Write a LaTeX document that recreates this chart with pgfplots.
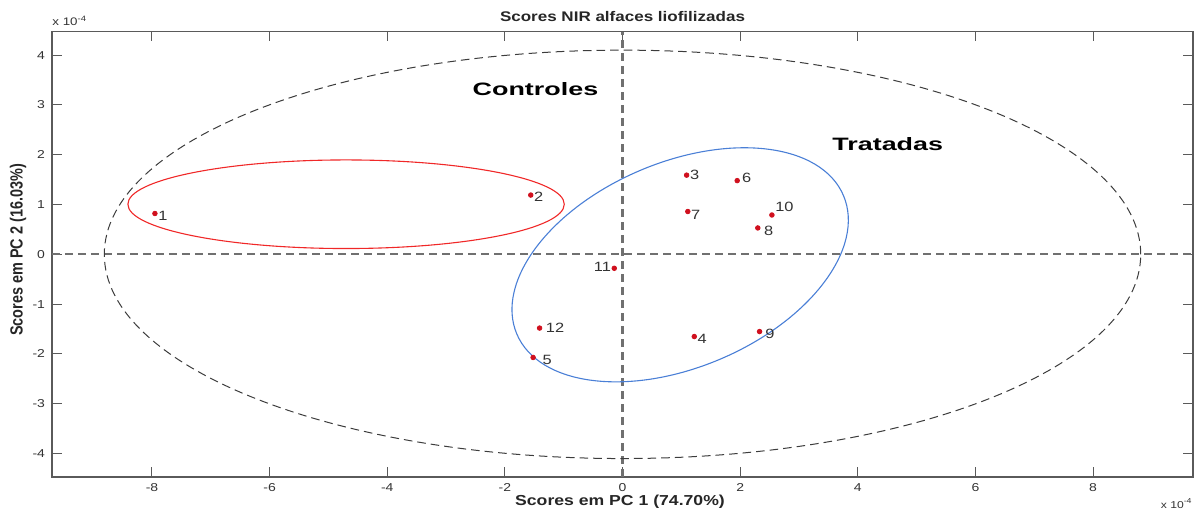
\documentclass[border=0pt]{standalone}
\usepackage{fontspec}
\setmainfont{Liberation Sans}[FakeStretch=1.22]
\newfontfamily\plainfont{Liberation Sans}
\newfontfamily\widefont{Liberation Sans}[FakeStretch=1.5]
\usepackage{pgfplots}
\usepackage{pgfplotstable}
\pgfplotsset{compat=1.18}
\definecolor{ptred}{HTML}{D0101E}
\definecolor{ellred}{HTML}{F02828}
\definecolor{ellblue}{HTML}{4A7FD6}
\definecolor{axgray}{HTML}{5A5A5A}
\definecolor{txtgray}{HTML}{333333}
\definecolor{zerogray}{HTML}{707070}
\definecolor{ellgray}{HTML}{3C3C3C}

\pgfplotstableread{
x     y
-7.95 0.82
-1.56 1.19
1.09  1.59
1.22  -1.65
-1.52 -2.07
1.95  1.48
1.11  0.86
2.30  0.53
2.33  -1.55
2.54  0.79
-0.14 -0.28
-1.41 -1.48
}\scores

\tikzset{plab/.style={font=\fontsize{6.75}{7.5}\selectfont, text=txtgray, anchor=west, inner sep=1.5bp}}

\begin{document}
\begin{tikzpicture}
\begin{axis}[
  scale only axis, width=570.5bp, height=222.65bp,
  xmin=-9.7, xmax=9.7, ymin=-4.47, ymax=4.47,
  xtick={-8,-6,-4,-2,0,2,4,6,8},
  ytick={-4,-3,-2,-1,0,1,2,3,4},
  tick align=inside,
  major tick length=4.8bp,
  axis line style={axgray, line width=0.75bp},
  tick style={axgray, line width=0.5bp},
  ticklabel style={font=\fontsize{5.75}{6.5}\selectfont, text=txtgray},
  xticklabel style={yshift=0.3bp},
  /pgf/number format/assume math mode=true,
]
\draw[zerogray, line width=1.1bp, dash pattern=on 4bp off 2.5bp] (axis cs:-9.7,0) -- (axis cs:9.7,0);
\draw[zerogray, line width=1.1bp, dash pattern=on 4bp off 2.5bp] (axis cs:0,-4.47) -- (axis cs:0,4.47);
\draw[ellgray, line width=0.5bp, dash pattern=on 4.3bp off 2.5bp] (axis cs:0,0) ellipse [x radius=259.1bp, y radius=102.1bp];
\draw[ellred, line width=0.55bp] (axis cs:-4.70,1.006) ellipse [x radius=109.1bp, y radius=22.15bp];
\draw[ellblue, line width=0.55bp, rotate around={22.97:(axis cs:0.98,-0.21)}] (axis cs:0.98,-0.21) ellipse [x radius=88.7bp, y radius=51.25bp];
\addplot[only marks, mark=*, mark size=1.15bp, ptred, mark options={fill=ptred, draw=ptred}]
  table[x=x, y=y] {\scores};
\node[plab] at (axis cs:-7.95,0.82) [yshift=-1bp] {1};
\node[plab] at (axis cs:-1.56,1.19) [yshift=-0.75bp] {2};
\node[plab] at (axis cs:1.09,1.59) {3};
\node[plab] at (axis cs:1.22,-1.65) [yshift=-1.15bp] {4};
\node[plab] at (axis cs:-1.52,-2.07) [xshift=3bp, yshift=-1bp] {5};
\node[plab] at (axis cs:1.95,1.48) [xshift=0.75bp, yshift=1.5bp] {6};
\node[plab] at (axis cs:1.11,0.86) [yshift=-1.5bp] {7};
\node[plab] at (axis cs:2.30,0.53) [xshift=1.5bp, yshift=-1.5bp] {8};
\node[plab] at (axis cs:2.33,-1.55) [xshift=1.25bp, yshift=-1.3bp] {9};
\node[plab] at (axis cs:2.54,0.79) [yshift=3.85bp] {10};
\node[plab, anchor=east] at (axis cs:-0.14,-0.28) [yshift=0.5bp] {11};
\node[plab] at (axis cs:-1.41,-1.48) [xshift=1.5bp] {12};
\node[font=\widefont\bfseries\fontsize{9}{10}\selectfont, text=black] at (axis cs:-1.48,3.31) {Controles};
\node[font=\widefont\bfseries\fontsize{9}{10}\selectfont, text=black] at (axis cs:4.51,2.22) {Tratadas};
\end{axis}
\node[anchor=base, font=\bfseries\fontsize{7}{8}\selectfont, text=black!85] at (285.25bp,227.65bp) {Scores NIR alfaces liofilizadas};
\node[anchor=base, font=\bfseries\fontsize{7.25}{8}\selectfont, text=black!85] at (284bp,-14bp) {Scores em PC 1 (74.70\%)};
\node[rotate=90, yscale=1.22, anchor=center, font=\plainfont\bfseries\fontsize{7.25}{8}\selectfont, text=black!85] at (-17bp,113.5bp) {Scores em PC 2 (16.03\%)};
\node[anchor=base west, inner sep=0pt, font=\fontsize{5.5}{6}\selectfont, text=txtgray] at (0bp,225.5bp) {x 10\raisebox{2.4bp}{\fontsize{3.9}{4}\selectfont -4}};
\node[anchor=base east, inner sep=0pt, font=\fontsize{5}{6}\selectfont, text=txtgray] at (570bp,-15.5bp) {x 10\raisebox{2.2bp}{\fontsize{3.6}{4}\selectfont -4}};
\pgfresetboundingbox
\path (-26bp,-17.5bp) rectangle (572.5bp,238.5bp);
\end{tikzpicture}
\end{document}
